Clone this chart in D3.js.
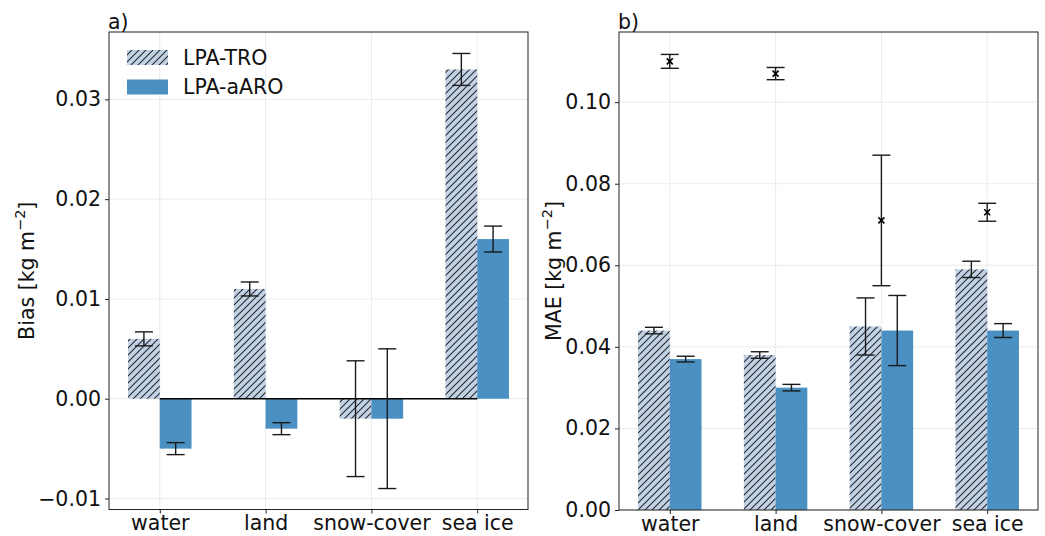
<!DOCTYPE html>
<html>
<head>
<meta charset="utf-8">
<script src="https://cdn.jsdelivr.net/npm/d3@7"></script>
<style>
  body { margin: 0; background: #fff; }
  text { font-family: "DejaVu Sans", sans-serif; }
</style>
</head>
<body>
<div id="chart"></div>
<script>
const categories = ["water", "land", "snow-cover", "sea ice"];
const seriesNames = ["LPA-TRO", "LPA-aARO"];

// panel a) bias
const biasTRO = [0.006, 0.011, -0.002, 0.033];
const biasTROErr = [0.0007, 0.0007, 0.0058, 0.0016];
const biasARO = [-0.005, -0.003, -0.002, 0.016];
const biasAROErr = [0.0006, 0.0006, 0.007, 0.0013];
const biasTicks = [-0.01, 0.00, 0.01, 0.02, 0.03];

// panel b) MAE
const maeTRO = [0.044, 0.038, 0.045, 0.059];
const maeTROErr = [0.0008, 0.0008, 0.007, 0.002];
const maeARO = [0.037, 0.030, 0.044, 0.044];
const maeAROErr = [0.0007, 0.0008, 0.0086, 0.0017];
const maeRef = [0.110, 0.107, 0.071, 0.073];
const maeRefErr = [0.0017, 0.0015, 0.016, 0.0022];
const maeTicks = [0.00, 0.02, 0.04, 0.06, 0.08, 0.10];

const W = 1045, H = 536;
const svg = d3.select("#chart").append("svg").attr("width", W).attr("height", H);

const defs = svg.append("defs");
const pat = defs.append("pattern")
    .attr("id", "hatch")
    .attr("patternUnits", "userSpaceOnUse")
    .attr("width", 7).attr("height", 7);
pat.append("rect").attr("width", 7).attr("height", 7).attr("fill", "#c2d2e6");
pat.append("path")
    .attr("d", "M-1,1 l2,-2 M0,7 l7,-7 M6,8 l2,-2")
    .attr("stroke", "#2a2a2a").attr("stroke-width", 1.1);

const troFill = "url(#hatch)";
const aroFill = "#4a90c2";
const barW = 0.3;
const fs = 20.5;

function panel(opts) {
    const {left, right, top, bottom, yDomain, ticks, fmt, tro, troErr, aro, aroErr, label, ylab} = opts;
    const g = svg.append("g");

    const x = d3.scaleLinear().domain([-0.48, 3.48]).range([left, right]);
    const y = d3.scaleLinear().domain(yDomain).range([bottom, top]);

    // grid
    g.selectAll(".gx").data(d3.range(categories.length)).enter().append("line")
        .attr("x1", d => x(d)).attr("x2", d => x(d))
        .attr("y1", top).attr("y2", bottom)
        .attr("stroke", "#ebebeb").attr("stroke-width", 1);
    g.selectAll(".gy").data(ticks).enter().append("line")
        .attr("x1", left).attr("x2", right)
        .attr("y1", d => y(d)).attr("y2", d => y(d))
        .attr("stroke", "#ebebeb").attr("stroke-width", 1);

    // bars
    const y0 = y(0);
    g.selectAll(".tro").data(tro).enter().append("rect")
        .attr("x", (d, i) => x(i - barW))
        .attr("width", x(barW) - x(0))
        .attr("y", d => Math.min(y(d), y0))
        .attr("height", d => Math.abs(y(d) - y0))
        .attr("fill", troFill);
    g.selectAll(".aro").data(aro).enter().append("rect")
        .attr("x", (d, i) => x(i))
        .attr("width", x(barW) - x(0))
        .attr("y", d => Math.min(y(d), y0))
        .attr("height", d => Math.abs(y(d) - y0))
        .attr("fill", aroFill);

    if (opts.zeroLine) {
        g.append("line")
            .attr("x1", x(0)).attr("x2", x(categories.length - 1))
            .attr("y1", y0).attr("y2", y0)
            .attr("stroke", "#000").attr("stroke-width", 1.5);
    }

    function errorbars(vals, errs, off) {
        const eg = g.append("g").attr("stroke", "#1a1a1a").attr("stroke-width", 1.4);
        vals.forEach((v, i) => {
            const cx = x(i + off);
            eg.append("line").attr("x1", cx).attr("x2", cx)
                .attr("y1", y(v - errs[i])).attr("y2", y(v + errs[i]));
            [v - errs[i], v + errs[i]].forEach(e => {
                eg.append("line").attr("x1", cx - 9).attr("x2", cx + 9)
                    .attr("y1", y(e)).attr("y2", y(e));
            });
        });
    }
    errorbars(tro, troErr, -barW / 2);
    errorbars(aro, aroErr, barW / 2);

    if (opts.ref) {
        errorbars(opts.ref, opts.refErr, 0);
        g.selectAll(".mk").data(opts.ref).enter().append("path")
            .attr("transform", (d, i) => `translate(${x(i)},${y(d)})`)
            .attr("d", "M-3,-3L3,3M-3,3L3,-3")
            .attr("stroke", "#000").attr("stroke-width", 1.6);
    }

    // frame
    g.append("rect").attr("x", left).attr("y", top)
        .attr("width", right - left).attr("height", bottom - top)
        .attr("fill", "none").attr("stroke", "#222").attr("stroke-width", 1);

    // axes
    const yAxis = d3.axisLeft(y).tickValues(ticks).tickFormat(fmt).tickSize(4).tickPadding(4);
    const ya = g.append("g").attr("transform", `translate(${left},0)`).call(yAxis);
    const xAxis = d3.axisBottom(x).tickValues(d3.range(categories.length))
        .tickFormat(i => categories[i]).tickSize(4).tickPadding(2);
    const xa = g.append("g").attr("transform", `translate(0,${bottom})`).call(xAxis);
    [ya, xa].forEach(a => {
        a.select(".domain").remove();
        a.selectAll("line").attr("stroke", "#222");
        a.selectAll("text").attr("font-size", fs).attr("fill", "#111")
            .style("font-family", "DejaVu Sans, sans-serif");
    });

    g.append("text").attr("x", left - 1).attr("y", top - 3)
        .attr("font-size", fs).attr("fill", "#111").text(label);

    const yl = g.append("text")
        .attr("transform", `translate(${opts.ylabX},${(top + bottom) / 2}) rotate(-90)`)
        .attr("text-anchor", "middle").attr("font-size", fs).attr("fill", "#111");
    yl.append("tspan").text(ylab + " [kg m");
    yl.append("tspan").attr("dy", -9).attr("font-size", 14.5).text("\u22122");
    yl.append("tspan").attr("dy", 9).text("]");

    return g;
}

const gA = panel({
    left: 109, right: 528, top: 32, bottom: 509.5,
    yDomain: [-0.0111, 0.03675], ticks: biasTicks,
    fmt: d => d < 0 ? "\u2212" + d3.format(".2f")(-d) : d3.format(".2f")(d),
    tro: biasTRO, troErr: biasTROErr, aro: biasARO, aroErr: biasAROErr,
    label: "a)", ylab: "Bias", ylabX: 34, zeroLine: true
});

panel({
    left: 619, right: 1038, top: 32, bottom: 510,
    yDomain: [0, 0.1172], ticks: maeTicks, fmt: d3.format(".2f"),
    tro: maeTRO, troErr: maeTROErr, aro: maeARO, aroErr: maeAROErr,
    ref: maeRef, refErr: maeRefErr,
    label: "b)", ylab: "MAE", ylabX: 561
});

// legend
const legend = gA.append("g");
seriesNames.forEach((name, i) => {
    const ly = 50 + i * 29.5;
    legend.append("rect").attr("x", 127).attr("y", ly).attr("width", 41).attr("height", 15)
        .attr("fill", i === 0 ? troFill : aroFill);
    legend.append("text").attr("x", 183).attr("y", ly + 14.5)
        .attr("font-size", fs).attr("fill", "#111").text(name);
});
</script>
</body>
</html>
